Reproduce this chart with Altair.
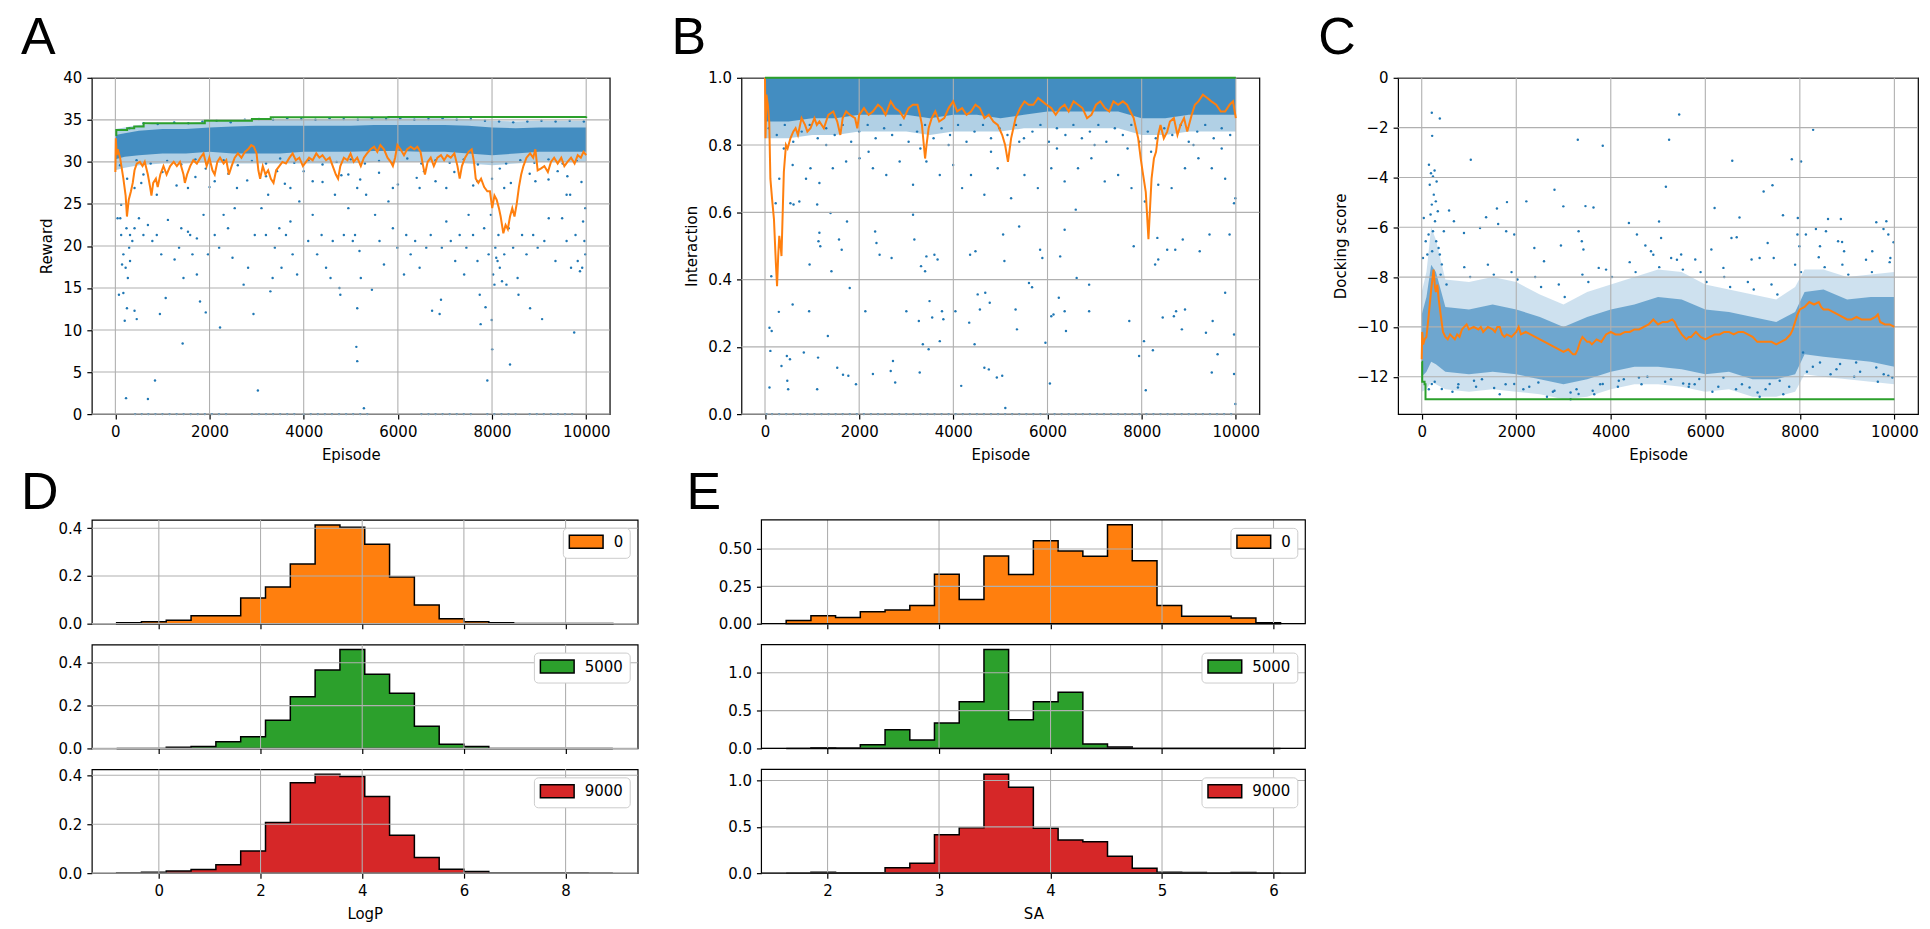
import altair as alt
import pandas as pd

BLUE = "#1f77b4"
ORANGE = "#ff7f0e"
GREEN = "#2ca02c"
RED = "#d62728"
GRID = "#b0b0b0"
FONT = "DejaVu Sans"
LETTER_FONT = "Liberation Sans"

# ---------------- tick values ----------------
EPISODE_TICKS = [0, 2000, 4000, 6000, 8000, 10000]
A_Y_TICKS = [0, 5, 10, 15, 20, 25, 30, 35, 40]
B_Y_TICKS = [0.0, 0.2, 0.4, 0.6, 0.8, 1.0]
C_Y_TICKS = [0, -2, -4, -6, -8, -10, -12]
D_X_TICKS = [0, 2, 4, 6, 8]
E_X_TICKS = [2, 3, 4, 5, 6]
D_Y_TICKS = [0.0, 0.2, 0.4]
E0_Y_TICKS = [0.0, 0.25, 0.5]
E1_Y_TICKS = [0.0, 0.5, 1.0]

# ---------------- panel A : Reward ----------------
A_BAND_EP = [0, 200, 500, 1000, 1500, 2000, 2500, 3000, 3500, 4000, 4500, 5000, 5500, 6000, 6500, 7000, 7500, 8000, 8500, 9000, 9500, 10000]
A_OUTER_LO = [29.0, 29.3, 29.6, 29.8, 29.8, 30.0, 29.8, 29.8, 29.8, 29.8, 29.8, 29.8, 30.0, 30.0, 30.0, 30.0, 29.8, 29.6, 29.8, 30.0, 30.0, 30.0]
A_OUTER_HI = [33.9, 34.1, 34.4, 34.6, 34.6, 34.8, 34.9, 35.1, 35.1, 35.1, 35.1, 35.1, 35.2, 35.2, 35.2, 35.2, 35.1, 34.9, 34.8, 34.9, 34.9, 34.9]
A_CORE_LO = [30.3, 30.6, 30.8, 31.0, 31.0, 31.2, 31.0, 31.0, 31.0, 31.2, 31.2, 31.2, 31.3, 31.3, 31.2, 31.2, 31.0, 30.8, 31.0, 31.2, 31.2, 31.2]
A_CORE_HI = [33.2, 33.4, 33.7, 33.9, 33.9, 34.1, 34.2, 34.3, 34.3, 34.3, 34.3, 34.3, 34.4, 34.4, 34.4, 34.4, 34.3, 34.1, 34.0, 34.1, 34.1, 34.1]
A_OUTLIERS = [
    (47, 23.3), (104, 23.3), (123, 21.3), (123, 24.9), (142, 17.8), (170, 19.0), (170, 14.4), (76, 14.2), (199, 11.1),
    (218, 17.4), (227, 1.9), (236, 22.1), (246, 12.6), (265, 16.2), (293, 19.8), (312, 21.3), (312, 18.2), (360, 20.6),
    (407, 22.1), (407, 12.3), (407, 26.9), (454, 11.3), (501, 23.3), (596, 21.3), (596, 28.5), (691, 22.5), (691, 1.8),
    (785, 20.6), (842, 4.0), (880, 21.3), (880, 26.1), (946, 11.9), (974, 19.0), (1069, 13.8), (1116, 23.1), (1258, 18.4),
    (1353, 19.8), (1400, 22.1), (1429, 8.4), (1447, 16.2), (1542, 21.7), (1542, 26.9), (1589, 21.3), (1637, 19.0),
    (1731, 20.9), (1731, 16.6), (1798, 13.4), (1873, 23.7), (1920, 12.1), (1920, 29.2), (1968, 19.0), (2110, 21.3),
    (2110, 27.7), (2204, 19.8), (2223, 10.3), (2299, 23.7), (2393, 22.1), (2488, 18.6), (2535, 24.5), (2583, 26.9),
    (2724, 15.4), (2819, 17.4), (2933, 11.9), (2961, 21.3), (3027, 2.8), (3103, 24.5), (3198, 21.3), (3245, 26.1),
    (3292, 14.6), (3340, 16.2), (3387, 19.8), (3434, 28.9), (3482, 22.1), (3529, 17.4), (3623, 21.3), (3718, 22.9),
    (3718, 26.9), (3765, 19.0), (3860, 16.6), (3907, 25.3), (4096, 20.6), (4191, 23.7), (4191, 27.7), (4286, 19.0),
    (4380, 21.3), (4475, 17.4), (4570, 16.2), (4617, 20.6), (4664, 26.1), (4759, 15.0), (4778, 14.2), (4853, 21.3),
    (4948, 24.5), (4948, 28.5), (5043, 20.6), (5090, 21.3), (5118, 8.0), (5137, 12.6), (5137, 6.3), (5137, 26.9),
    (5185, 19.4), (5213, 16.2), (5279, 0.7), (5326, 26.1), (5449, 14.8), (5516, 23.7), (5610, 20.6), (5705, 17.8),
    (5800, 25.3), (5894, 22.1), (5894, 26.9), (5989, 19.8), (6130, 16.6), (6178, 21.3), (6272, 19.0), (6367, 20.6),
    (6462, 17.4), (6462, 26.9), (6556, 28.9), (6603, 19.8), (6698, 21.3), (6727, 12.3), (6887, 11.9), (6916, 13.6),
    (6934, 19.8), (7029, 22.9), (7029, 26.9), (7124, 20.6), (7218, 18.2), (7313, 21.3), (7408, 16.6), (7455, 19.8),
    (7502, 23.7), (7597, 21.3), (7691, 18.2), (7691, 27.7), (7739, 14.2), (7758, 10.7), (7833, 22.1), (7862, 12.7),
    (7900, 4.0), (7928, 19.0), (7975, 23.7), (7994, 11.2), (8004, 7.7), (8023, 16.6), (8051, 15.4), (8070, 19.8),
    (8089, 18.6), (8117, 18.2), (8136, 21.3), (8165, 17.4), (8165, 29.2), (8212, 15.8), (8259, 19.0), (8259, 26.9),
    (8306, 15.4), (8354, 22.1), (8382, 5.9), (8448, 19.8), (8543, 16.2), (8562, 14.2), (8638, 21.3), (8732, 19.0),
    (8808, 12.6), (8874, 21.3), (8921, 27.7), (8969, 19.8), (9063, 11.3), (9111, 20.6), (9205, 23.3), (9347, 18.2),
    (9394, 28.9), (9489, 23.3), (9584, 20.6), (9584, 26.1), (9659, 26.1), (9678, 17.4), (9745, 9.7), (9773, 21.3),
    (9820, 18.2), (9868, 17.0), (9915, 17.4), (9934, 22.9), (9962, 20.6), (9981, 24.5), (9981, 19.0),
    (250, 28.0), (550, 27.5), (1000, 28.8), (1300, 27.2), (1700, 28.2), (2000, 27.0), (2400, 28.6), (2800, 27.8),
    (3200, 28.3), (3600, 27.4), (4000, 28.9), (4400, 27.6), (4800, 28.4), (5200, 27.9), (5600, 28.7), (6000, 27.3),
    (6400, 28.1), (6800, 27.7), (7200, 28.8), (7600, 27.2), (8000, 28.0), (8400, 27.5), (8800, 28.6), (9200, 27.9),
    (9600, 28.3), (9900, 27.6),
]
A_FRINGE = [
    (100, 29.6), (300, 34.0), (450, 30.2), (600, 34.6), (750, 29.8), (900, 34.5), (1100, 30.1), (1250, 34.7),
    (1400, 29.7), (1550, 34.6), (1700, 30.3), (1850, 34.8), (2000, 29.9), (2150, 34.9), (2300, 30.2), (2450, 34.7),
    (2600, 29.6), (2750, 35.0), (2900, 30.1), (3050, 35.1), (3200, 29.8), (3350, 35.0), (3500, 30.4), (3650, 35.2),
    (3800, 29.9), (3950, 35.1), (4100, 30.2), (4250, 35.0), (4400, 29.7), (4550, 35.2), (4700, 30.0), (4850, 35.1),
    (5000, 30.3), (5150, 35.0), (5300, 29.8), (5450, 35.2), (5600, 30.1), (5750, 35.1), (5900, 29.9), (6050, 35.2),
    (6200, 30.4), (6350, 35.0), (6500, 29.8), (6650, 35.1), (6800, 30.2), (6950, 35.2), (7100, 29.9), (7250, 35.0),
    (7400, 30.3), (7550, 35.1), (7700, 29.7), (7850, 34.9), (8000, 30.0), (8150, 34.8), (8300, 29.8), (8450, 34.7),
    (8600, 30.2), (8750, 34.8), (8900, 29.9), (9050, 34.9), (9200, 30.3), (9350, 34.8), (9500, 29.8), (9650, 34.9),
    (9800, 30.1), (9950, 34.8),
]
A_ZERO_EP = [420, 560, 700, 850, 1000, 1150, 1300, 1450, 1600, 1750, 1900, 2050, 2200, 2350, 2900, 3050, 3200, 3350,
             3500, 3650, 3800, 4000, 4150, 4300, 4450, 4600, 4750, 4900, 5050, 5200, 5350, 6500, 6650, 6800, 6950,
             7100, 7250, 7400, 7550, 7900, 8050, 8200, 8350, 8500, 8800, 8950, 9100, 9250, 9400, 9550, 9700]
A_MOVING_AVG = [
    (0, 28.8), (10, 32.8), (30, 30.8), (50, 31.5), (100, 30.5), (170, 28.0), (218, 26.0), (246, 23.5), (284, 25.5),
    (331, 26.5), (369, 27.5), (407, 29.0), (454, 29.8), (520, 30.0), (577, 29.5), (624, 30.0), (690, 28.5), (738, 27.0),
    (766, 26.0), (804, 27.5), (861, 28.0), (899, 27.0), (955, 28.5), (1022, 29.5), (1088, 28.5), (1164, 29.5),
    (1239, 30.0), (1306, 29.5), (1372, 30.0), (1447, 28.5), (1476, 27.5), (1523, 28.5), (1589, 29.5), (1656, 30.2),
    (1731, 29.8), (1807, 30.5), (1873, 31.0), (1939, 29.5), (1996, 30.5), (2062, 29.0), (2110, 28.5), (2166, 30.0),
    (2223, 30.5), (2299, 29.8), (2356, 30.2), (2412, 28.5), (2469, 29.5), (2535, 30.5), (2602, 31.0), (2677, 30.5),
    (2753, 31.2), (2819, 31.5), (2886, 32.0), (2942, 31.8), (2999, 31.0), (3037, 29.0), (3075, 28.0), (3131, 29.5),
    (3188, 28.5), (3245, 29.0), (3302, 28.0), (3359, 27.5), (3415, 29.0), (3482, 29.5), (3548, 30.0), (3623, 29.8),
    (3699, 30.5), (3765, 31.0), (3832, 30.2), (3907, 30.5), (3983, 29.5), (4049, 30.0), (4115, 30.5), (4191, 30.2),
    (4267, 31.0), (4333, 30.5), (4399, 30.8), (4475, 30.2), (4551, 30.5), (4617, 29.5), (4683, 28.5), (4730, 28.0),
    (4778, 29.5), (4853, 30.5), (4929, 30.2), (4995, 31.0), (5061, 30.0), (5137, 30.5), (5213, 29.5), (5279, 30.5),
    (5345, 31.0), (5421, 31.5), (5497, 31.8), (5563, 31.2), (5629, 32.0), (5705, 31.5), (5780, 30.5), (5847, 30.0),
    (5894, 29.5), (5941, 30.5), (5989, 32.0), (6055, 31.5), (6130, 30.8), (6197, 31.5), (6272, 31.8), (6348, 31.5),
    (6414, 31.8), (6481, 31.2), (6537, 29.5), (6575, 28.5), (6632, 30.0), (6698, 30.5), (6764, 29.5), (6840, 30.5),
    (6916, 30.8), (6982, 30.2), (7048, 30.8), (7124, 30.5), (7200, 31.0), (7266, 29.5), (7313, 28.0), (7360, 29.5),
    (7427, 30.5), (7502, 31.2), (7569, 31.5), (7616, 30.0), (7654, 28.0), (7710, 27.5), (7767, 28.0), (7833, 27.0),
    (7900, 26.5), (7956, 26.5), (8004, 24.5), (8051, 26.0), (8098, 25.5), (8146, 24.5), (8183, 23.5), (8240, 21.5),
    (8288, 22.5), (8335, 22.0), (8382, 23.5), (8430, 24.5), (8477, 23.5), (8524, 25.0), (8571, 27.0), (8619, 28.5),
    (8666, 29.5), (8732, 30.5), (8808, 31.0), (8874, 30.5), (8921, 31.5), (8969, 29.0), (9035, 29.2), (9111, 29.5),
    (9186, 28.8), (9252, 30.0), (9319, 30.5), (9394, 29.8), (9470, 30.5), (9536, 29.5), (9603, 30.0), (9678, 30.5),
    (9754, 29.8), (9820, 30.8), (9886, 30.5), (9943, 31.2), (10000, 30.8),
]
A_RUNNING_MAX = [(0, 33.2), (20, 33.8), (250, 34.0), (400, 34.2), (600, 34.6), (1900, 34.9), (2900, 35.1),
                 (3300, 35.3), (5800, 35.35), (10000, 35.4)]

# ---------------- panel B : Interaction ----------------
B_BAND_EP = [0, 200, 500, 1000, 1500, 2000, 2500, 3000, 3500, 4000, 4500, 5000, 5500, 6000, 6500, 7000, 7500, 8000, 8500, 9000, 9500, 10000]
B_OUTER_LO = [0.82, 0.82, 0.82, 0.83, 0.83, 0.84, 0.84, 0.84, 0.83, 0.84, 0.84, 0.84, 0.85, 0.85, 0.85, 0.85, 0.85, 0.83, 0.83, 0.84, 0.84, 0.84]
B_OUTER_HI = [1.0, 1.0, 1.0, 1.0, 1.0, 1.0, 1.0, 1.0, 1.0, 1.0, 1.0, 1.0, 1.0, 1.0, 1.0, 1.0, 1.0, 1.0, 1.0, 1.0, 1.0, 1.0]
B_CORE_LO = [0.87, 0.87, 0.87, 0.88, 0.88, 0.89, 0.89, 0.89, 0.88, 0.89, 0.89, 0.88, 0.89, 0.90, 0.90, 0.90, 0.90, 0.88, 0.88, 0.89, 0.89, 0.89]
B_CORE_HI = [1.0, 1.0, 1.0, 1.0, 1.0, 1.0, 1.0, 1.0, 1.0, 1.0, 1.0, 1.0, 1.0, 1.0, 1.0, 1.0, 1.0, 1.0, 1.0, 1.0, 1.0, 1.0]
B_OUTLIERS = [
    (95, 0.079), (114, 0.188), (95, 0.257), (142, 0.247), (133, 0.41), (294, 0.304), (227, 0.627), (303, 0.70),
    (350, 0.143), (464, 0.173), (473, 0.099), (492, 0.074), (530, 0.163), (587, 0.326), (540, 0.627), (606, 0.623),
    (729, 0.632), (824, 0.183), (937, 0.306), (947, 0.445), (966, 0.731), (1108, 0.074), (1127, 0.168), (1136, 0.514),
    (1155, 0.539), (1174, 0.499), (1108, 0.623), (1335, 0.232), (1392, 0.598), (1411, 0.425), (1534, 0.138),
    (1572, 0.519), (1629, 0.489), (1657, 0.117), (1742, 0.573), (1770, 0.114), (1799, 0.375), (1932, 0.089),
    (2131, 0.306), (2292, 0.119), (2339, 0.543), (2367, 0.509), (2434, 0.474), (2670, 0.128), (2718, 0.158),
    (2765, 0.094), (2689, 0.464), (3002, 0.306), (3144, 0.593), (3172, 0.519), (3267, 0.277), (3286, 0.124),
    (3352, 0.208), (3314, 0.44), (3400, 0.425), (3428, 0.469), (3475, 0.193), (3494, 0.336), (3551, 0.287),
    (3598, 0.474), (3665, 0.46), (3712, 0.217), (3759, 0.306), (3788, 0.282), (4044, 0.306), (4167, 0.084),
    (4337, 0.272), (4356, 0.474), (4470, 0.484), (4451, 0.208), (4517, 0.356), (4564, 0.311), (4659, 0.138),
    (4678, 0.361), (4754, 0.133), (4773, 0.331), (4924, 0.109), (5038, 0.114), (5057, 0.534), (5085, 0.455),
    (5104, 0.018), (5322, 0.311), (5350, 0.252), (5398, 0.558), (5606, 0.39), (5672, 0.377), (5843, 0.489),
    (5890, 0.464), (5956, 0.212), (6051, 0.091), (6080, 0.291), (6127, 0.296), (6240, 0.346), (6269, 0.469),
    (6364, 0.306), (6364, 0.548), (6392, 0.247), (6600, 0.608), (6619, 0.405), (6884, 0.385), (6884, 0.306),
    (7737, 0.277), (7831, 0.499), (7945, 0.173), (8049, 0.217), (8087, 0.071), (8238, 0.19), (8286, 0.445),
    (8333, 0.524), (8352, 0.46), (8447, 0.287), (8542, 0.489), (8684, 0.291), (8731, 0.306), (8713, 0.489),
    (8854, 0.252), (8873, 0.519), (8920, 0.311), (9233, 0.484), (9365, 0.242), (9441, 0.534), (9489, 0.124),
    (9508, 0.277), (9612, 0.178), (9773, 0.361), (9867, 0.534), (9962, 0.237), (9962, 0.119), (9990, 0.03),
    (9962, 0.627), (9990, 0.642),
    (587, 0.741), (871, 0.70), (1155, 0.687), (1440, 0.731), (1723, 0.751), (2008, 0.761), (2292, 0.731),
    (2576, 0.711), (2860, 0.751), (3144, 0.682), (3428, 0.751), (3712, 0.711), (3996, 0.741), (4186, 0.672),
    (4375, 0.711), (4659, 0.652), (4943, 0.731), (5227, 0.642), (5511, 0.711), (5795, 0.672), (6080, 0.731),
    (6364, 0.692), (6648, 0.731), (6932, 0.761), (7216, 0.692), (7500, 0.711), (7784, 0.672), (8068, 0.632),
    (8352, 0.682), (8636, 0.672), (8920, 0.731), (9205, 0.761), (9489, 0.731), (9773, 0.70),
    (400, 0.79), (1300, 0.80), (2200, 0.78), (3300, 0.79), (3900, 0.80), (4800, 0.78), (5400, 0.81),
    (6200, 0.79), (7000, 0.80), (7700, 0.79), (8200, 0.78), (9100, 0.80), (9700, 0.79),
]
B_FRINGE = [
    (80, 0.85), (250, 0.83), (420, 0.86), (600, 0.81), (780, 0.84), (950, 0.86), (1120, 0.82), (1300, 0.85),
    (1480, 0.83), (1650, 0.86), (1830, 0.81), (2000, 0.84), (2180, 0.86), (2350, 0.82), (2530, 0.85), (2700, 0.83),
    (2880, 0.86), (3050, 0.81), (3230, 0.84), (3400, 0.86), (3580, 0.82), (3750, 0.85), (3930, 0.83), (4100, 0.86),
    (4280, 0.81), (4450, 0.84), (4630, 0.86), (4800, 0.82), (4980, 0.85), (5150, 0.83), (5330, 0.86), (5500, 0.82),
    (5680, 0.84), (5850, 0.86), (6030, 0.81), (6200, 0.85), (6380, 0.83), (6550, 0.86), (6730, 0.82), (6900, 0.84),
    (7080, 0.86), (7250, 0.81), (7430, 0.85), (7600, 0.83), (7780, 0.86), (7950, 0.81), (8130, 0.84), (8300, 0.82),
    (8480, 0.85), (8650, 0.83), (8830, 0.86), (9000, 0.81), (9180, 0.84), (9350, 0.86), (9530, 0.82), (9700, 0.85),
    (9880, 0.83),
]
B_ZERO_EP = [30, 150, 300, 450, 600, 750, 900, 1050, 1200, 1350, 1500, 1650, 1800, 1950, 2100, 2250, 2400, 2550,
             2700, 2850, 3000, 3150, 3300, 3450, 3600, 3750, 3900, 4050, 4200, 4350, 4500, 4650, 4800, 4950, 5100,
             5250, 5400, 5550, 5700, 5850, 6000, 6150, 6300, 6450, 6600, 6750, 6900, 7050, 7200, 7350, 7500, 7650,
             7800, 7950, 8100, 8250, 8400, 8550, 8700, 8850, 9000, 9150, 9300, 9450, 9600, 9750, 9900]
B_MOVING_AVG = [
    (0, 1.0), (10, 0.82), (30, 0.95), (60, 0.92), (90, 0.87), (114, 0.70), (150, 0.64), (190, 0.58), (230, 0.45),
    (256, 0.38), (280, 0.47), (303, 0.53), (330, 0.50), (350, 0.47), (380, 0.62), (400, 0.72), (445, 0.80),
    (480, 0.79), (540, 0.82), (600, 0.84), (650, 0.85), (700, 0.83), (776, 0.88), (850, 0.86), (900, 0.84),
    (966, 0.85), (1050, 0.88), (1100, 0.86), (1155, 0.87), (1250, 0.85), (1345, 0.89), (1450, 0.90), (1534, 0.87),
    (1600, 0.83), (1650, 0.88), (1723, 0.90), (1800, 0.89), (1913, 0.88), (1960, 0.85), (2000, 0.89), (2102, 0.91),
    (2200, 0.89), (2292, 0.90), (2400, 0.92), (2481, 0.91), (2560, 0.89), (2670, 0.93), (2760, 0.91), (2860, 0.90),
    (2950, 0.88), (3049, 0.91), (3140, 0.92), (3239, 0.92), (3290, 0.89), (3333, 0.86), (3400, 0.76), (3430, 0.80),
    (3475, 0.85), (3540, 0.88), (3617, 0.90), (3700, 0.87), (3807, 0.88), (3900, 0.91), (3996, 0.93), (4080, 0.90),
    (4186, 0.91), (4280, 0.89), (4375, 0.90), (4470, 0.92), (4564, 0.91), (4660, 0.88), (4754, 0.89), (4850, 0.87),
    (4943, 0.86), (5038, 0.83), (5100, 0.80), (5160, 0.75), (5227, 0.82), (5322, 0.88), (5420, 0.91), (5511, 0.93),
    (5600, 0.92), (5701, 0.92), (5800, 0.94), (5890, 0.93), (5980, 0.92), (6080, 0.91), (6174, 0.89), (6270, 0.91),
    (6364, 0.92), (6450, 0.90), (6553, 0.93), (6650, 0.92), (6742, 0.91), (6840, 0.88), (6932, 0.89), (7030, 0.92),
    (7121, 0.93), (7220, 0.91), (7311, 0.90), (7400, 0.93), (7500, 0.92), (7600, 0.93), (7689, 0.92), (7760, 0.90),
    (7831, 0.88), (7926, 0.82), (7980, 0.76), (8021, 0.72), (8087, 0.66), (8144, 0.52), (8180, 0.62), (8210, 0.70),
    (8260, 0.76), (8305, 0.78), (8350, 0.83), (8400, 0.86), (8470, 0.82), (8542, 0.84), (8600, 0.87), (8684, 0.88),
    (8760, 0.83), (8826, 0.86), (8900, 0.88), (8968, 0.84), (9063, 0.89), (9130, 0.92), (9205, 0.93), (9300, 0.95),
    (9394, 0.94), (9480, 0.93), (9583, 0.92), (9680, 0.90), (9773, 0.90), (9867, 0.92), (9940, 0.93), (10000, 0.88),
]
B_RUNNING_MAX = [(0, 1.0), (10000, 1.0)]

# ---------------- panel C : Docking score ----------------
C_BAND_EP = [0, 100, 200, 300, 500, 1000, 1500, 2000, 2500, 3000, 3500, 4000, 4500, 5000, 5500, 6000, 6500, 7000, 7500, 7900, 8100, 8500, 9000, 9500, 10000]
C_CORE_LO = [-12.0, -11.8, -11.4, -11.5, -11.8, -11.9, -11.8, -11.9, -12.1, -12.3, -12.1, -11.8, -11.6, -11.6, -11.7, -11.9, -11.8, -12.1, -12.1, -11.9, -11.1, -11.2, -11.3, -11.4, -11.6]
C_CORE_HI = [-9.5, -8.8, -7.5, -7.8, -9.2, -9.3, -9.1, -9.3, -9.6, -10.0, -9.6, -9.3, -9.1, -8.8, -8.9, -9.3, -9.4, -9.6, -9.8, -9.4, -8.6, -8.5, -8.9, -8.8, -8.8]
C_OUTER_LO = [-12.6, -12.5, -12.2, -12.3, -12.5, -12.6, -12.5, -12.6, -12.7, -12.9, -12.8, -12.5, -12.3, -12.3, -12.4, -12.6, -12.5, -12.8, -12.8, -12.6, -11.9, -12.0, -12.1, -12.2, -12.3]
C_OUTER_HI = [-8.6, -7.8, -6.0, -6.5, -8.1, -8.2, -8.0, -8.2, -8.7, -9.1, -8.6, -8.3, -8.0, -7.7, -7.8, -8.3, -8.5, -8.7, -8.9, -8.4, -7.7, -7.7, -8.0, -7.9, -7.8]
C_OUTLIERS = [
    (213, -1.40), (383, -1.63), (221, -2.33), (5447, -1.47), (8281, -2.09), (3302, -2.49), (5234, -2.49),
    (3830, -2.73), (1038, -3.29), (6570, -3.33), (7830, -3.27), (8026, -3.36), (5166, -4.37), (7421, -4.31),
    (7234, -4.56), (2809, -4.49), (1804, -4.99), (2213, -4.96), (2996, -5.16), (3464, -5.15), (3634, -5.21),
    (6196, -5.23), (1591, -5.25), (7643, -5.52), (6723, -5.61), (8868, -5.67), (7957, -5.63), (9617, -5.80),
    (9830, -5.76), (5021, -5.77), (9770, -6.07), (1362, -5.60), (579, -5.33), (681, -5.76), (894, -6.23),
    (1234, -6.03), (1617, -5.87), (1787, -6.16), (1957, -6.29), (2383, -6.83), (2587, -7.36), (2945, -6.73),
    (3319, -6.16), (3387, -6.56), (3421, -6.89), (3745, -7.63), (4383, -5.83), (4553, -6.29), (4732, -6.73),
    (4851, -6.96), (5064, -6.43), (5277, -7.23), (5489, -7.09), (5787, -7.29), (6128, -6.89), (6383, -7.63),
    (6553, -6.43), (6664, -6.40), (6979, -7.29), (7149, -7.23), (7319, -6.63), (7447, -7.23), (8128, -6.29),
    (8340, -6.07), (8426, -6.76), (8553, -6.16), (8596, -5.67), (8809, -6.56), (8894, -6.59), (8936, -6.96),
    (9532, -6.96), (9915, -7.23), (9983, -6.60), (9872, -6.29), (7991, -6.76), (7949, -6.29),
    (153, -3.49), (196, -3.83), (272, -3.72), (238, -3.96), (315, -4.16), (170, -4.29), (255, -4.69), (298, -4.96),
    (213, -5.09), (340, -5.36), (187, -5.49), (281, -5.76), (238, -6.16), (145, -6.29), (306, -6.56), (357, -6.83),
    (85, -6.56), (43, -5.63), (26, -7.23), (383, -7.09), (425, -7.49), (468, -6.16), (221, -6.96), (119, -7.09),
    (213, -12.29), (425, -12.49), (766, -12.43), (1106, -12.16), (1532, -12.45), (1957, -12.29), (2468, -12.23),
    (2809, -12.56), (3149, -12.63), (3319, -12.69), (3617, -12.56), (3830, -12.29), (4170, -12.16), (4596, -12.03),
    (5532, -12.27), (5660, -12.29), (5872, -12.09), (6383, -12.03), (6936, -12.43), (7106, -12.63), (7362, -12.29),
    (7574, -12.16), (8851, -11.49), (8426, -11.43), (8068, -11.03), (9872, -11.96), (9957, -12.03), (9617, -11.63),
    (9191, -11.43),
]
C_FRINGE = [
    (150, -12.5), (400, -7.9), (650, -12.6), (900, -7.6), (1150, -12.4), (1400, -7.5), (1650, -12.7), (1900, -7.8),
    (2150, -12.5), (2400, -8.0), (2650, -12.8), (2900, -8.3), (3150, -12.9), (3400, -7.9), (3650, -12.7),
    (3900, -7.7), (4150, -12.4), (4400, -7.4), (4650, -12.3), (4900, -7.1), (5150, -12.2), (5400, -7.3),
    (5650, -12.4), (5900, -7.8), (6150, -12.6), (6400, -8.0), (6650, -12.5), (6900, -8.2), (7150, -12.8),
    (7400, -8.3), (7650, -12.7), (7900, -7.5), (8150, -11.8), (8400, -7.2), (8650, -11.9), (8900, -7.5),
    (9150, -12.0), (9400, -7.3), (9650, -12.2), (9900, -7.4),
    (275, -12.2), (525, -8.3), (775, -12.3), (1025, -8.0), (1275, -12.1), (1525, -7.9), (1775, -12.3), (2025, -8.1),
    (2275, -12.4), (2525, -8.4), (2775, -12.6), (3025, -8.8), (3275, -12.5), (3525, -8.2), (3775, -12.3),
    (4025, -8.0), (4275, -12.1), (4525, -7.8), (4775, -12.0), (5025, -7.6), (5275, -12.1), (5525, -7.7),
    (5775, -12.3), (6025, -8.2), (6275, -12.4), (6525, -8.4), (6775, -12.3), (7025, -8.5), (7275, -12.5),
    (7525, -8.7), (7775, -12.4), (8025, -7.8), (8275, -11.6), (8525, -7.6), (8775, -11.7), (9025, -7.9),
    (9275, -11.8), (9525, -7.8), (9775, -11.9),
]
C_MOVING_AVG = [
    (0, -11.3), (10, -10.2), (30, -10.7), (60, -10.5), (100, -10.4), (150, -9.5), (200, -8.5), (250, -7.7),
    (280, -8.4), (300, -8.6), (330, -8.3), (360, -8.9), (400, -9.5), (450, -10.2), (500, -10.4), (550, -10.5),
    (600, -10.3), (650, -10.4), (700, -10.5), (750, -10.3), (800, -10.4), (850, -10.1), (900, -10.0), (950, -9.9),
    (1000, -10.1), (1100, -10.0), (1200, -10.1), (1250, -10.0), (1300, -10.2), (1400, -10.0), (1500, -10.1),
    (1550, -10.2), (1600, -10.0), (1650, -10.0), (1700, -10.3), (1750, -10.4), (1800, -10.3), (1900, -10.4),
    (1950, -10.3), (2000, -10.2), (2050, -10.0), (2100, -10.3), (2200, -10.2), (2300, -10.3), (2400, -10.4),
    (2500, -10.5), (2600, -10.6), (2700, -10.7), (2800, -10.8), (2900, -10.9), (3000, -11.0), (3100, -10.9),
    (3200, -11.1), (3250, -11.1), (3300, -10.9), (3350, -10.6), (3400, -10.4), (3450, -10.5), (3500, -10.6),
    (3550, -10.6), (3600, -10.7), (3700, -10.5), (3800, -10.6), (3900, -10.3), (4000, -10.2), (4100, -10.3),
    (4200, -10.3), (4300, -10.2), (4400, -10.2), (4500, -10.1), (4600, -10.1), (4700, -10.0), (4800, -9.9),
    (4900, -9.7), (5000, -9.9), (5100, -9.8), (5200, -9.8), (5300, -9.7), (5350, -9.8), (5400, -10.0),
    (5500, -10.3), (5600, -10.5), (5650, -10.4), (5700, -10.4), (5800, -10.2), (5900, -10.4), (6000, -10.5),
    (6100, -10.4), (6200, -10.3), (6300, -10.3), (6400, -10.2), (6500, -10.2), (6600, -10.3), (6700, -10.2),
    (6800, -10.2), (6900, -10.3), (7000, -10.4), (7100, -10.6), (7200, -10.6), (7300, -10.6), (7400, -10.6),
    (7500, -10.7), (7600, -10.6), (7700, -10.5), (7800, -10.3), (7850, -10.1), (7900, -9.8), (7950, -9.5),
    (8000, -9.3), (8100, -9.2), (8200, -9.0), (8300, -9.1), (8400, -9.0), (8450, -9.2), (8500, -9.3),
    (8600, -9.3), (8700, -9.4), (8800, -9.5), (8900, -9.6), (9000, -9.7), (9100, -9.7), (9200, -9.6),
    (9300, -9.7), (9400, -9.7), (9500, -9.7), (9600, -9.6), (9650, -9.5), (9700, -9.8), (9800, -9.9),
    (9900, -9.9), (10000, -10.0),
]
C_RUNNING_MAX = [(0, -11.4), (10, -12.2), (60, -12.3), (80, -12.9), (10000, -12.9)]

# ---------------- panel D : LogP histograms ----------------
LOGP_EDGES = [-0.83, -0.342, 0.146, 0.634, 1.122, 1.61, 2.098, 2.586, 3.074, 3.562, 4.05, 4.538, 5.026,
              5.514, 6.002, 6.49, 6.978, 7.466, 7.954, 8.442, 8.93]
LOGP_0 = [0.004, 0.008, 0.014, 0.033, 0.033, 0.108, 0.154, 0.250, 0.414, 0.404, 0.333, 0.196, 0.078, 0.021,
          0.008, 0.004, 0.001, 0.001, 0.001, 0.001]
LOGP_5000 = [0.0, 0.0, 0.005, 0.009, 0.031, 0.054, 0.132, 0.241, 0.366, 0.462, 0.347, 0.258, 0.104, 0.019,
             0.009, 0.0, 0.0, 0.0, 0.0, 0.0]
LOGP_9000 = [0.001, 0.004, 0.009, 0.015, 0.034, 0.090, 0.207, 0.369, 0.404, 0.395, 0.313, 0.155, 0.064, 0.016,
             0.007, 0.001, 0.001, 0.001, 0.001, 0.0]

# ---------------- panel E : SA histograms ----------------
SA_EDGES = [1.629, 1.851, 2.072, 2.294, 2.516, 2.738, 2.959, 3.181, 3.403, 3.624, 3.846, 4.068, 4.290, 4.511,
            4.733, 4.955, 5.176, 5.398, 5.620, 5.842, 6.063]
SA_0 = [0.022, 0.053, 0.042, 0.080, 0.091, 0.122, 0.331, 0.162, 0.453, 0.329, 0.556, 0.487, 0.451, 0.662, 0.422,
        0.122, 0.049, 0.049, 0.038, 0.007]
SA_5000 = [0.0, 0.009, 0.004, 0.048, 0.247, 0.110, 0.335, 0.617, 1.308, 0.379, 0.617, 0.744, 0.057, 0.018, 0.0,
           0.0, 0.0, 0.0, 0.0, 0.0]
SA_9000 = [0.0, 0.011, 0.004, 0.004, 0.057, 0.107, 0.414, 0.489, 1.068, 0.929, 0.486, 0.357, 0.339, 0.182, 0.054,
           0.011, 0.007, 0.0, 0.007, 0.0]

GROUP_LABELS = ["0", "5000", "9000"]
GROUP_COLORS = [ORANGE, GREEN, RED]

# ---------------- layout sizes ----------------
TOP_H = 337
A_W, B_W, C_W = 519, 519, 521
HIST_H = 104
D_W = 547
E_W = 565
E_OFF = 20


def letter_layer(letter, dx, dy):
    return alt.Chart(pd.DataFrame({"t": [letter]})).mark_text(
        font=LETTER_FONT, fontSize=52, align="left", baseline="alphabetic", color="black"
    ).encode(x=alt.value(dx), y=alt.value(dy), text="t:N")


def top_panel(letter, ldx, width, ydom, yticks, yfmt, ytitle, band_ep, olo, ohi, clo, chi,
              outer_op, core_op, outliers, zeros, moving, running):
    xs = alt.Scale(domain=[-500, 10500], nice=False, zero=False)
    ys = alt.Scale(domain=ydom, nice=False, zero=False)
    xax = alt.Axis(values=EPISODE_TICKS, format="d", title="Episode", grid=False)
    yax = alt.Axis(values=yticks, format=yfmt, title=ytitle, grid=False)

    def X():
        return alt.X("ep:Q", scale=xs, axis=xax)

    def Y(f):
        return alt.Y(f + ":Q", scale=ys, axis=yax)

    band = pd.DataFrame({"ep": band_ep, "olo": olo, "ohi": ohi, "clo": clo, "chi": chi})
    outer = alt.Chart(band).mark_area(color=BLUE, opacity=outer_op).encode(x=X(), y=Y("olo"), y2=alt.Y2("ohi"))
    core = alt.Chart(band).mark_area(color=BLUE, opacity=core_op).encode(x=X(), y=Y("clo"), y2=alt.Y2("chi"))
    pts_df = pd.DataFrame(outliers, columns=["ep", "val"])
    pts = alt.Chart(pts_df).mark_circle(size=6, color=BLUE, opacity=1).encode(x=X(), y=Y("val"))
    layers = [outer, core, pts]
    if zeros:
        zdf = pd.DataFrame({"ep": zeros, "val": [0 for _ in zeros]})
        layers.append(alt.Chart(zdf).mark_circle(size=6, color=BLUE, opacity=1).encode(x=X(), y=Y("val")))
    vgrid = alt.Chart(pd.DataFrame({"ep": EPISODE_TICKS})).mark_rule(color=GRID, strokeWidth=1.1).encode(
        x=X(), y=alt.value(0), y2=alt.value(TOP_H))
    hgrid = alt.Chart(pd.DataFrame({"val": yticks})).mark_rule(color=GRID, strokeWidth=1.1).encode(
        y=Y("val"), x=alt.value(0), x2=alt.value(width))
    ma = alt.Chart(pd.DataFrame(moving, columns=["ep", "val"])).mark_line(color=ORANGE, strokeWidth=2).encode(
        x=X(), y=Y("val"))
    mx = alt.Chart(pd.DataFrame(running, columns=["ep", "val"])).mark_line(
        color=GREEN, strokeWidth=2, interpolate="step-after").encode(x=X(), y=Y("val"))
    layers += [vgrid, hgrid, ma, mx, letter_layer(letter, ldx, -24)]
    return alt.layer(*layers).properties(width=width, height=TOP_H)


def hist_panel(edges, heights, label, color, xdom, xticks, ydom, yticks, yfmt, width, bottom, xtitle,
               offset=0, letter=None, ldx=0):
    if offset:
        xs = alt.Scale(domain=xdom, nice=False, zero=False, range=[offset, width])
    else:
        xs = alt.Scale(domain=xdom, nice=False, zero=False)
    ys = alt.Scale(domain=ydom, nice=False, zero=False)
    if bottom:
        xax = alt.Axis(values=xticks, format="d", title=xtitle, grid=False)
    else:
        xax = alt.Axis(values=xticks, format="d", title=None, labels=False, grid=False)
    yax = alt.Axis(values=yticks, format=yfmt, title=None, grid=False, offset=-offset)

    xs_vals = edges[:-1] + [edges[-1]]
    hs_vals = heights + [heights[-1]]
    df = pd.DataFrame({"x": xs_vals, "h": hs_vals, "g": [label for _ in xs_vals]})
    leg = alt.Legend(
        title=None, orient="top-right", offset=8, padding=6.5, strokeColor="#cccccc",
        fillColor="white", cornerRadius=4,
        symbolType="M-2.6,-1H2.6V1H-2.6Z", symbolSize=169, symbolOffset=9.4,
        symbolStrokeColor="black", symbolStrokeWidth=1.5,
        labelFont=FONT, labelFontSize=15, labelColor="black", labelOffset=20, zindex=2,
    )
    area = alt.Chart(df).mark_area(interpolate="step-after", stroke="black", strokeWidth=1.5).encode(
        x=alt.X("x:Q", scale=xs, axis=xax),
        y=alt.Y("h:Q", scale=ys, axis=yax, stack=False),
        color=alt.Color("g:N", scale=alt.Scale(domain=[label], range=[color]), legend=leg),
    )
    vgrid = alt.Chart(pd.DataFrame({"x": xticks})).mark_rule(color=GRID, strokeWidth=1.1).encode(
        x=alt.X("x:Q", scale=xs, axis=xax), y=alt.value(0), y2=alt.value(HIST_H))
    hgrid = alt.Chart(pd.DataFrame({"h": yticks})).mark_rule(color=GRID, strokeWidth=1.1).encode(
        y=alt.Y("h:Q", scale=ys, axis=yax), x=alt.value(offset), x2=alt.value(width))
    layers = [area, vgrid, hgrid]
    if offset:
        frame = alt.Chart(pd.DataFrame({"f": [0]})).mark_rect(filled=False, color="black", strokeWidth=1.2).encode(
            x=alt.value(offset), x2=alt.value(width), y=alt.value(0), y2=alt.value(HIST_H))
        layers.append(frame)
    if letter:
        layers.append(letter_layer(letter, ldx, -11))
    ch = alt.layer(*layers).properties(width=width, height=HIST_H)
    if offset:
        ch = ch.properties(view=alt.ViewBackground(strokeWidth=0))
    return ch


def spacer(w, h):
    return alt.Chart(pd.DataFrame({"s": [0]})).mark_point(opacity=0).encode(
        x=alt.value(0), y=alt.value(0)).properties(width=w, height=h, view=alt.ViewBackground(strokeWidth=0))


panel_a = top_panel("A", -71, A_W, [0, 40], A_Y_TICKS, "d", "Reward", A_BAND_EP, A_OUTER_LO, A_OUTER_HI,
                    A_CORE_LO, A_CORE_HI, 0.35, 0.75, A_OUTLIERS + A_FRINGE, A_ZERO_EP, A_MOVING_AVG, A_RUNNING_MAX)
panel_b = top_panel("B", -70, B_W, [0, 1.0], B_Y_TICKS, ".1f", "Interaction", B_BAND_EP, B_OUTER_LO, B_OUTER_HI,
                    B_CORE_LO, B_CORE_HI, 0.35, 0.75, B_OUTLIERS + B_FRINGE, B_ZERO_EP, B_MOVING_AVG, B_RUNNING_MAX)
panel_c = top_panel("C", -80, C_W, [-13.5, 0], C_Y_TICKS, "d", "Docking score", C_BAND_EP, C_OUTER_LO, C_OUTER_HI,
                    C_CORE_LO, C_CORE_HI, 0.22, 0.55, C_OUTLIERS + C_FRINGE, [], C_MOVING_AVG, C_RUNNING_MAX)

LOGP_SETS = [LOGP_0, LOGP_5000, LOGP_9000]
SA_SETS = [SA_0, SA_5000, SA_9000]
D_YDOMS = [[0, 0.435], [0, 0.485], [0, 0.424]]
E_YDOMS = [[0, 0.695], [0, 1.373], [0, 1.121]]
E_YTICKS = [E0_Y_TICKS, E1_Y_TICKS, E1_Y_TICKS]
E_YFMT = [".2f", ".1f", ".1f"]

rows = [panel_a, spacer(104, 1), panel_b, spacer(93, 1), panel_c]
rows += [spacer(1, 64) for _ in range(5)]
for i in range(3):
    d = hist_panel(LOGP_EDGES, LOGP_SETS[i], GROUP_LABELS[i], GROUP_COLORS[i], [-1.318, 9.418], D_X_TICKS,
                   D_YDOMS[i], D_Y_TICKS, ".1f", D_W, i == 2, "LogP",
                   letter="D" if i == 0 else None, ldx=-71)
    e = hist_panel(SA_EDGES, SA_SETS[i], GROUP_LABELS[i], GROUP_COLORS[i], [1.407, 6.285], E_X_TICKS,
                   E_YDOMS[i], E_YTICKS[i], E_YFMT[i], E_W, i == 2, "SA", offset=E_OFF,
                   letter="E" if i == 0 else None, ldx=-55)
    rows += [d, spacer(1, 1), e, spacer(1, 1), spacer(1, 1)]

chart = alt.concat(
    *rows, columns=5, spacing={"row": 21, "column": 0}, bounds="flush", align="each"
).resolve_scale(color="independent").resolve_legend(color="independent").properties(
    padding={"left": 12, "top": 2, "right": 2, "bottom": 0}
).configure_view(stroke="black", strokeWidth=1.2).configure_axis(
    labelFont=FONT, labelFontSize=15, labelColor="black", titleFont=FONT, titleFontSize=15,
    titleFontWeight="normal", titleColor="black", tickColor="black", tickSize=5, tickWidth=1.2,
    labelPadding=5, titlePadding=8, domain=False, labelFlush=False
)

chart.save("out.html", embed_options={"renderer": "svg", "actions": False})
